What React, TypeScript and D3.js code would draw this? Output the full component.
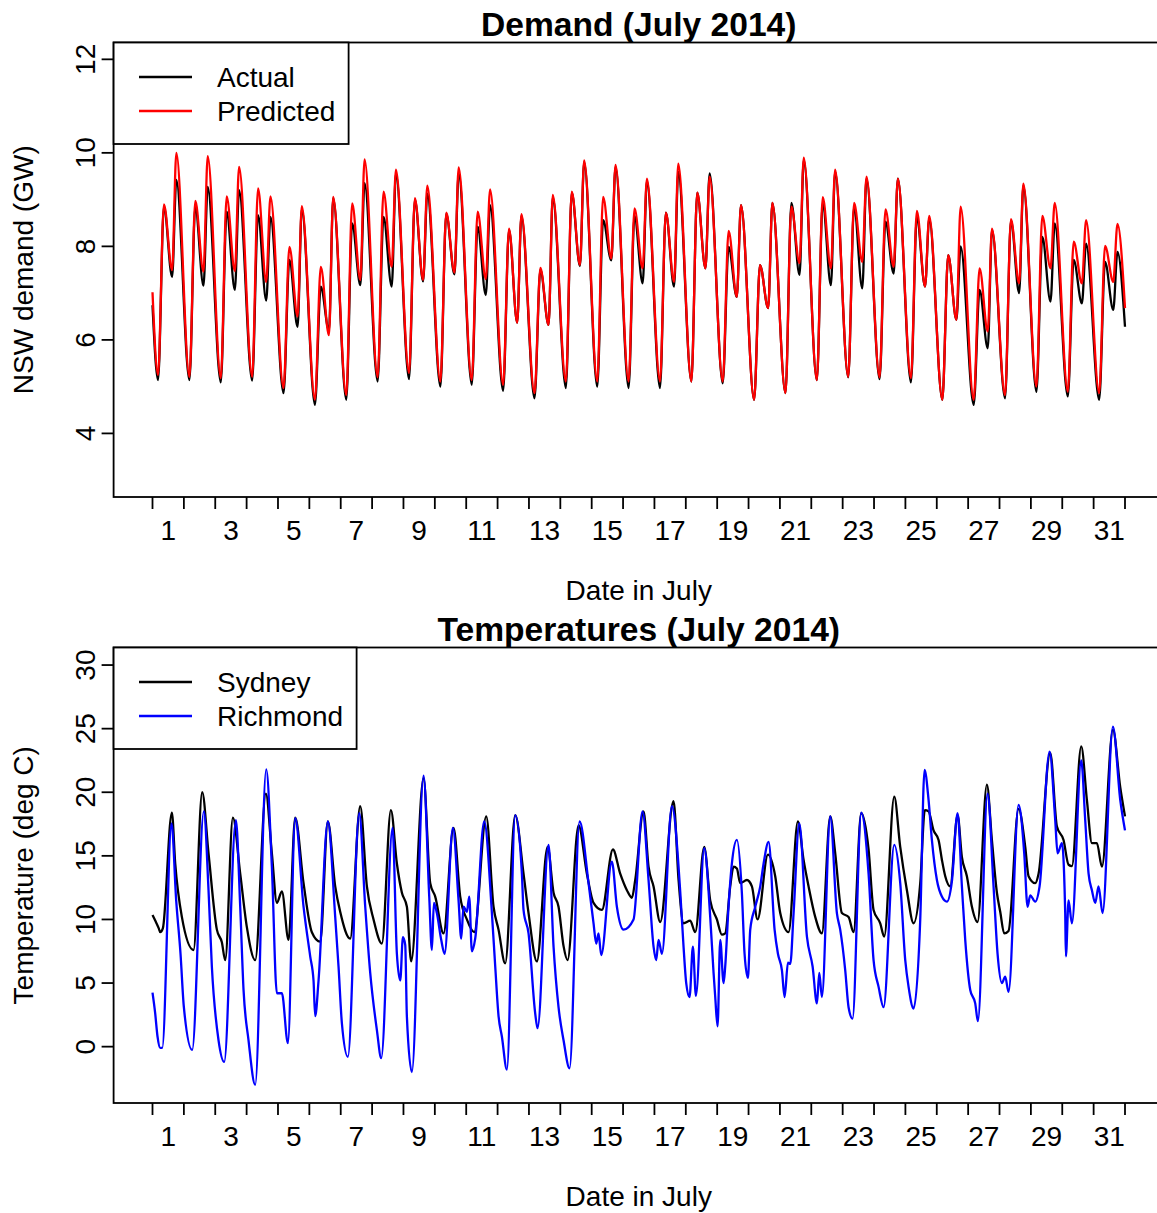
import React from "react";
import * as d3 from "d3";

// ---------- Demand data (GW), one value per day of July 2014 ----------
const keyHours = [4.25, 8.75, 15, 18.25]; // overnight trough, morning peak, afternoon dip, evening peak
const actualStart = 6.74;
const actualEnd = 6.28;
const actualTrough = [5.14, 5.14, 5.09, 5.13, 4.86, 4.61, 4.72, 5.11, 5.16, 5.0, 5.04, 4.91, 4.75, 4.97, 5.0, 4.97, 4.97, 5.11, 5.07, 4.72, 4.86, 5.14, 5.2, 5.16, 5.09, 4.72, 4.61, 4.75, 4.89, 4.79, 4.72];
const actualMorning = [8.85, 8.85, 8.74, 8.67, 7.71, 7.14, 8.49, 8.63, 9.0, 8.7, 8.42, 8.35, 7.5, 9.15, 8.56, 8.65, 8.72, 9.15, 7.99, 7.6, 8.93, 8.93, 8.85, 8.53, 8.63, 7.81, 7.07, 8.55, 8.2, 7.71, 7.67];
const actualDip = [7.35, 7.16, 7.07, 6.84, 6.28, 6.2, 7.17, 7.14, 7.25, 7.4, 6.96, 6.37, 6.32, 7.58, 7.7, 7.21, 7.14, 7.53, 6.92, 6.68, 7.39, 7.17, 7.1, 7.42, 7.14, 6.43, 5.82, 7.0, 6.82, 6.78, 6.64];
const actualEvening = [9.42, 9.27, 9.2, 8.63, 8.8, 9.03, 9.35, 9.56, 9.13, 9.56, 8.88, 8.65, 9.05, 9.8, 9.7, 9.4, 9.59, 9.56, 8.88, 8.93, 9.85, 9.6, 9.45, 9.45, 8.6, 8.0, 8.35, 9.3, 8.49, 8.06, 7.88];

const predStart = 7.02;
const predEnd = 6.68;
const predTrough = [5.25, 5.21, 5.18, 5.21, 4.97, 4.72, 4.82, 5.2, 5.29, 5.11, 5.14, 5.04, 4.86, 5.11, 5.11, 5.11, 5.11, 5.11, 5.11, 4.72, 4.86, 5.14, 5.21, 5.2, 5.18, 4.72, 4.72, 4.82, 5.0, 4.89, 4.86];
const predMorning = [8.9, 8.97, 9.07, 9.24, 7.99, 7.56, 8.92, 9.17, 9.03, 8.72, 8.74, 8.38, 7.54, 9.17, 9.06, 8.81, 8.72, 9.15, 8.33, 7.6, 8.85, 9.05, 8.93, 8.79, 8.76, 7.81, 7.53, 8.58, 8.65, 8.1, 8.01];
const predDip = [7.49, 7.46, 7.47, 7.24, 6.5, 6.1, 7.28, 7.56, 7.28, 7.44, 7.3, 6.37, 6.32, 7.6, 7.74, 7.53, 7.24, 7.53, 6.92, 6.68, 7.64, 7.53, 7.67, 7.56, 7.14, 6.43, 6.18, 7.21, 7.53, 7.21, 7.24];
const predEvening = [10.0, 9.93, 9.7, 9.07, 8.86, 9.06, 9.86, 9.64, 9.3, 9.69, 9.22, 8.69, 9.1, 9.84, 9.74, 9.45, 9.77, 9.49, 8.88, 8.93, 9.9, 9.64, 9.49, 9.45, 8.65, 8.85, 8.38, 9.34, 8.93, 8.56, 8.48];

// ---------- Temperature data: [day offset from 1 July 00:00, deg C] ----------
const sydney: [number, number][] = [
  [0.0, 10.35], [0.09, 9.9], [0.2, 9.3], [0.245, 9.0], [0.33, 9.3], [0.617, 18.4], [0.724, 14.4], [0.936, 10.2], [1.308, 7.6],
  [1.584, 20.0], [1.786, 15.2], [2.052, 9.2], [2.211, 8.2], [2.318, 6.8],
  [2.562, 18.0], [2.796, 13.6], [3.008, 9.4], [3.274, 6.8],
  [3.614, 19.9], [3.805, 15.2], [3.965, 11.3], [4.124, 12.2], [4.337, 8.4],
  [4.549, 18.0], [4.815, 12.85], [5.08, 9.0], [5.346, 8.25],
  [5.59, 17.7], [5.824, 12.6], [5.983, 10.6], [6.302, 8.5],
  [6.621, 18.9], [6.834, 12.6], [7.046, 10.0], [7.312, 8.1],
  [7.599, 18.6], [7.79, 14.4], [7.95, 12.1], [8.109, 11.0], [8.247, 6.7],
  [8.64, 21.1], [8.853, 12.85], [9.012, 11.8], [9.278, 8.9],
  [9.596, 17.2], [9.809, 11.8], [10.021, 10.0], [10.255, 9.0],
  [10.638, 18.1], [10.871, 11.0], [11.03, 9.2], [11.243, 6.55],
  [11.562, 18.2], [11.827, 13.6], [11.987, 10.5], [12.253, 6.7],
  [12.593, 15.7], [12.784, 12.1], [12.943, 11.0], [13.103, 7.9], [13.23, 6.8],
  [13.581, 17.4], [13.847, 13.6], [14.059, 11.3], [14.325, 10.75],
  [14.676, 15.5], [14.909, 13.6], [15.122, 12.3], [15.281, 11.7], [15.388, 13.1],
  [15.653, 18.5], [15.812, 14.15], [15.972, 12.6], [16.184, 9.8],
  [16.609, 19.3], [16.769, 13.1], [16.928, 9.7], [17.141, 9.9], [17.3, 9.0],
  [17.587, 15.7], [17.778, 11.5], [17.991, 10.0], [18.15, 8.8], [18.256, 8.9], [18.416, 12.6],
  [18.522, 14.15], [18.628, 14.0], [18.735, 12.85], [18.947, 13.1], [19.107, 12.6], [19.287, 10.0],
  [19.617, 15.1], [19.85, 13.4], [20.01, 10.5], [20.275, 9.0],
  [20.573, 17.7], [20.753, 14.7], [20.913, 12.6], [21.125, 10.2], [21.338, 8.9],
  [21.604, 18.1], [21.763, 15.2], [21.976, 10.5], [22.188, 10.2], [22.347, 9.0],
  [22.592, 18.35], [22.826, 15.5], [22.985, 10.75], [23.198, 9.7], [23.325, 8.65],
  [23.644, 19.65], [23.835, 15.7], [24.048, 12.3], [24.26, 9.7], [24.473, 12.85],
  [24.62, 18.6], [24.738, 18.5], [24.897, 17.0], [25.057, 16.25], [25.163, 14.7], [25.27, 13.4], [25.429, 12.6],
  [25.663, 18.2], [25.801, 14.9], [25.96, 13.4], [26.12, 11.0], [26.3, 9.8],
  [26.598, 20.6], [26.757, 16.25], [26.917, 12.1], [27.023, 10.6], [27.15, 8.9], [27.288, 9.1],
  [27.607, 18.7], [27.82, 15.7], [27.926, 13.4], [28.139, 12.85], [28.245, 13.6],
  [28.617, 23.1], [28.83, 17.3], [29.041, 16.25], [29.201, 14.3], [29.307, 14.2],
  [29.605, 23.6], [29.785, 19.4], [29.945, 16.0], [30.104, 16.0], [30.264, 14.15],
  [30.615, 24.9], [30.848, 20.4], [31.0, 18.1],
];

const richmond: [number, number][] = [
  [0.0, 4.25], [0.084, 2.65], [0.16, 0.8], [0.245, -0.1], [0.31, -0.1], [0.607, 17.56], [0.755, 11.5], [0.893, 7.3], [1.0, 3.1], [1.265, -0.26],
  [1.637, 18.5], [1.786, 12.3], [1.892, 6.3], [2.105, 0.5], [2.286, -1.2],
  [2.658, 17.8], [2.796, 11.0], [2.902, 4.46], [3.061, 0.5], [3.274, -3.0],
  [3.625, 21.8], [3.805, 14.15], [3.965, 4.2], [4.124, 4.2], [4.316, 0.27],
  [4.549, 17.96], [4.815, 11.0], [5.027, 7.1], [5.133, 5.2], [5.186, 2.4], [5.293, 5.2],
  [5.59, 17.7], [5.824, 10.2], [5.93, 6.3], [6.037, 1.84], [6.228, -0.8],
  [6.59, 18.35], [6.781, 11.0], [6.94, 5.8], [7.153, 1.3], [7.291, -0.9],
  [7.652, 17.2], [7.79, 7.3], [7.897, 5.2], [7.982, 8.6], [8.056, 8.0], [8.109, 2.36], [8.268, -2.0],
  [8.64, 21.3], [8.821, 11.8], [8.906, 7.6], [8.97, 11.3], [9.065, 10.5], [9.203, 8.4], [9.31, 7.3],
  [9.575, 17.2], [9.756, 11.5], [9.841, 8.5], [9.915, 11.0], [10.021, 10.6], [10.096, 11.8], [10.181, 7.5], [10.287, 8.5],
  [10.574, 17.7], [10.819, 10.5], [10.925, 6.3], [11.031, 2.4], [11.137, 0.8], [11.297, -1.8],
  [11.562, 18.2], [11.775, 13.6], [11.827, 10.75], [11.987, 8.9], [12.2, 2.6], [12.274, 1.45],
  [12.625, 15.86], [12.784, 7.86], [12.943, 3.1], [13.103, 0.5], [13.294, -1.7],
  [13.613, 17.7], [13.9, 12.85], [14.059, 9.7], [14.144, 8.1], [14.218, 8.9], [14.303, 7.2],
  [14.643, 14.55], [14.803, 11.0], [15.015, 9.2], [15.334, 10.0],
  [15.621, 18.5], [15.812, 13.1], [15.972, 7.86], [16.057, 6.8], [16.131, 8.4], [16.238, 7.3],
  [16.557, 18.9], [16.822, 12.2], [16.928, 7.86], [17.013, 5.0], [17.12, 3.9], [17.226, 7.86], [17.322, 4.0],
  [17.587, 15.6], [17.778, 10.2], [17.885, 5.8], [17.938, 3.9], [18.012, 1.6], [18.097, 8.4], [18.204, 5.0], [18.256, 6.3],
  [18.362, 11.0], [18.469, 14.4], [18.628, 16.25], [18.788, 12.06], [18.873, 7.3], [18.98, 5.4], [19.054, 9.2], [19.214, 11.0], [19.373, 12.6], [19.48, 14.4],
  [19.639, 16.1], [19.83, 9.2], [19.937, 7.3], [20.064, 6.0], [20.149, 3.9], [20.256, 6.6], [20.33, 6.5], [20.436, 10.5],
  [20.617, 17.56], [20.861, 8.65], [21.042, 6.3], [21.18, 3.4], [21.255, 5.8], [21.338, 3.9],
  [21.604, 18.1], [21.816, 10.5], [21.922, 9.2], [22.082, 6.0], [22.188, 3.1], [22.315, 2.2],
  [22.592, 18.4], [22.826, 13.6], [22.985, 6.8], [23.145, 4.7], [23.304, 3.1],
  [23.644, 15.86], [23.835, 12.85], [23.995, 6.8], [24.101, 4.7], [24.26, 3.0], [24.473, 10.0],
  [24.61, 21.75], [24.738, 19.4], [24.844, 16.25], [25.004, 13.1], [25.163, 11.8], [25.323, 11.4], [25.482, 13.0],
  [25.663, 18.35], [25.801, 12.6], [25.907, 8.4], [26.067, 4.46], [26.226, 3.4], [26.311, 2.0],
  [26.619, 19.9], [26.81, 12.6], [26.938, 7.3], [27.076, 5.0], [27.182, 5.5], [27.288, 4.3],
  [27.607, 19.0], [27.788, 15.2], [27.894, 11.0], [27.979, 11.9], [28.139, 11.4], [28.277, 12.6],
  [28.596, 23.2], [28.776, 17.8], [28.85, 15.2], [28.99, 16.0], [29.094, 10.5], [29.116, 7.1], [29.201, 11.5], [29.307, 9.7],
  [29.605, 22.5], [29.732, 17.8], [29.839, 13.6], [29.945, 12.3], [30.051, 11.3], [30.157, 12.6], [30.285, 10.5],
  [30.615, 25.16], [30.848, 19.4], [31.0, 17.0],
];

// ---------- Axis ticks / labels ----------
const dayTicks = d3.range(0, 32);
const dayLabels = [1, 3, 5, 7, 9, 11, 13, 15, 17, 19, 21, 23, 25, 27, 29, 31];
const demandTicks = [4, 6, 8, 10, 12];
const tempTicks = [0, 5, 10, 15, 20, 25, 30];

const FONT = "'Liberation Sans', Arial, Helvetica, sans-serif";

function demandPoints(start: number, tr: number[], mo: number[], di: number[], ev: number[], end: number): [number, number][] {
  const pts: [number, number][] = [[0, start]];
  for (let d = 0; d < 31; d++) {
    pts.push([d + keyHours[0] / 24, tr[d]]);
    pts.push([d + keyHours[1] / 24, mo[d]]);
    pts.push([d + keyHours[2] / 24, di[d]]);
    pts.push([d + keyHours[3] / 24, ev[d]]);
  }
  pts.push([31, end]);
  return pts;
}

export default function App() {
  const W = 1157, H = 1213;
  const x = d3.scaleLinear().domain([0, 31]).range([152.5, 1125]);
  const left = x(-1.24), right = x(32.24);

  const top1 = 42.5, bot1 = 497;
  const top2 = 647.5, bot2 = 1103;
  const yD = d3.scaleLinear().domain([2.64, 12.36]).range([bot1, top1]);
  const yT = d3.scaleLinear().domain([-4.43, 31.38]).range([bot2, top2]);

  const lineD = d3.line<[number, number]>().x((p) => x(p[0])).y((p) => yD(p[1])).curve(d3.curveMonotoneX);
  const lineT = d3.line<[number, number]>().x((p) => x(p[0])).y((p) => yT(p[1])).curve(d3.curveMonotoneX);

  const actual = demandPoints(actualStart, actualTrough, actualMorning, actualDip, actualEvening, actualEnd);
  const pred = demandPoints(predStart, predTrough, predMorning, predDip, predEvening, predEnd);

  const sw = 1.8;
  const lw = 2.3;

  const panel = (
    top: number,
    bot: number,
    y: d3.ScaleLinear<number, number>,
    yTicks: number[],
    title: string,
    yTitle: string,
    legend: { label: string; color: string }[],
    legendW: number
  ) => (
    <g>
      <text x={(left + right) / 2} y={top - 6.5} textAnchor="middle" fontSize={33.6} fontWeight="bold" fontFamily={FONT}>
        {title}
      </text>
      <rect x={left} y={top} width={right - left} height={bot - top} fill="none" stroke="#000" strokeWidth={sw} />
      {dayTicks.map((t) => (
        <line key={"xt" + t} x1={x(t)} x2={x(t)} y1={bot} y2={bot + 12} stroke="#000" strokeWidth={sw} />
      ))}
      {dayLabels.map((d) => (
        <text key={"xl" + d} x={x(d - 0.5)} y={bot + 43} textAnchor="middle" fontSize={28} fontFamily={FONT}>
          {d}
        </text>
      ))}
      <text x={(left + right) / 2} y={bot + 103} textAnchor="middle" fontSize={28} fontFamily={FONT}>
        Date in July
      </text>
      {yTicks.map((v) => (
        <g key={"yt" + v}>
          <line x1={left - 12} x2={left} y1={y(v)} y2={y(v)} stroke="#000" strokeWidth={sw} />
          <text transform={`translate(${left - 19},${y(v)}) rotate(-90)`} textAnchor="middle" fontSize={28} fontFamily={FONT}>
            {v}
          </text>
        </g>
      ))}
      <text transform={`translate(33,${(top + bot) / 2}) rotate(-90)`} textAnchor="middle" fontSize={28} fontFamily={FONT}>
        {yTitle}
      </text>
      <rect x={left} y={top} width={legendW} height={101.5} fill="#fff" stroke="#000" strokeWidth={sw} />
      {legend.map((l, i) => (
        <g key={l.label}>
          <line x1={139} x2={192} y1={top + 34.5 + i * 34} y2={top + 34.5 + i * 34} stroke={l.color} strokeWidth={lw} />
          <text x={217} y={top + 44.5 + i * 34} fontSize={28} fontFamily={FONT}>
            {l.label}
          </text>
        </g>
      ))}
    </g>
  );

  return (
    <svg width={W} height={H} style={{ position: "fixed", left: 0, top: 0, background: "#fff" }}>
      <rect x={0} y={0} width={W} height={H} fill="#fff" />
      {panel(top1, bot1, yD, demandTicks, "Demand (July 2014)", "NSW demand (GW)", [
        { label: "Actual", color: "#000" },
        { label: "Predicted", color: "#ff0000" },
      ], 235)}
      <path d={lineD(actual) || ""} fill="none" stroke="#000" strokeWidth={lw} strokeLinejoin="round" />
      <path d={lineD(pred) || ""} fill="none" stroke="#ff0000" strokeWidth={lw} strokeLinejoin="round" />

      {panel(top2, bot2, yT, tempTicks, "Temperatures (July 2014)", "Temperature (deg C)", [
        { label: "Sydney", color: "#000" },
        { label: "Richmond", color: "#0000ff" },
      ], 243)}
      <path d={lineT(sydney) || ""} fill="none" stroke="#000" strokeWidth={lw} strokeLinejoin="round" />
      <path d={lineT(richmond) || ""} fill="none" stroke="#0000ff" strokeWidth={lw} strokeLinejoin="round" />
    </svg>
  );
}
